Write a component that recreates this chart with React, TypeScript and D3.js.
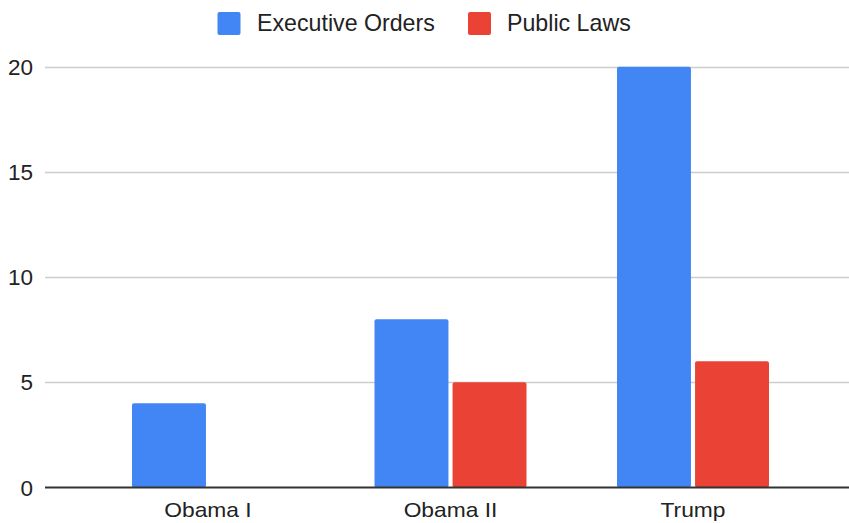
import React from "react";
import * as d3 from "d3";

const categories = ["Obama I", "Obama II", "Trump"];
const seriesNames = ["Executive Orders", "Public Laws"];
const executiveOrders = [4, 8, 20];
const publicLaws = [0, 5, 6];
const yTicks = [0, 5, 10, 15, 20];
const colors = ["#4285F4", "#EA4335"];

const W = 849;
const H = 523;

export default function App() {
  const values = [executiveOrders, publicLaws];
  const x = d3.scaleBand<string>().domain(categories).range([86.75, 814.25]);
  const groupW = 152;
  const xs = d3
    .scaleBand<string>()
    .domain(seriesNames)
    .range([0, groupW])
    .paddingInner(0.0526);
  const y = d3.scaleLinear().domain([0, 20]).range([487.5, 66.7]);
  const font = "Arial, 'Liberation Sans', sans-serif";

  return (
    <svg
      width={W}
      height={H}
      style={{ position: "absolute", left: 0, top: 0, background: "#fff" }}
      fontFamily={font}
    >
      {/* legend */}
      <g>
        <rect x={217.5} y={12} width={23} height={23} rx={2} fill={colors[0]} />
        <text x={257} y={30.5} fontSize={23.2} fill="#222">
          {seriesNames[0]}
        </text>
        <rect x={468} y={12} width={23} height={23} rx={2} fill={colors[1]} />
        <text x={507} y={30.5} fontSize={23.2} fill="#222">
          {seriesNames[1]}
        </text>
      </g>
      {/* gridlines */}
      {yTicks.map((t) =>
        t === 0 ? null : (
          <line
            key={t}
            x1={45}
            x2={W}
            y1={Math.round(y(t)) + 0.5}
            y2={Math.round(y(t)) + 0.5}
            stroke="#cccccc"
            strokeWidth={1.5}
          />
        )
      )}
      {/* y labels */}
      {yTicks.map((t) => (
        <text
          key={"l" + t}
          x={33}
          y={y(t) + 8}
          textAnchor="end"
          fontSize={22.5}
          fill="#222"
        >
          {t}
        </text>
      ))}
      {/* bars */}
      {categories.map((c, i) => {
        const gx = (x(c) as number) + x.bandwidth() / 2 - groupW / 2;
        return seriesNames.map((s, j) => {
          const v = values[j][i];
          if (!v) return null;
          return (
            <rect
              key={c + s}
              x={gx + (xs(s) as number)}
              y={y(v)}
              width={xs.bandwidth()}
              height={y(0) - y(v)}
              rx={2}
              fill={colors[j]}
            />
          );
        });
      })}
      {/* baseline */}
      <line x1={45} x2={W} y1={y(0)} y2={y(0)} stroke="#333" strokeWidth={2} />
      {/* x labels */}
      {categories.map((c) => {
        const cx = (x(c) as number) + x.bandwidth() / 2;
        return (
          <text
            key={"x" + c}
            transform={`translate(${cx},517) scale(1.14,1)`}
            textAnchor="middle"
            fontSize={20}
            fill="#222"
          >
            {c}
          </text>
        );
      })}
    </svg>
  );
}
